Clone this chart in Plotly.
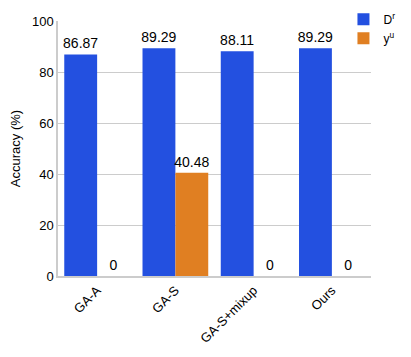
import plotly.graph_objects as go

categories = ["GA-A", "GA-S", "GA-S+mixup", "Ours"]
dr_values = [86.87, 89.29, 88.11, 89.29]
yu_values = [0, 40.48, 0, 0]
dr_text = ["86.87", "89.29", "88.11", "89.29"]
yu_text = ["0", "40.48", "0", "0"]
y_ticks = [0, 20, 40, 60, 80, 100]

fig = go.Figure()
fig.add_trace(go.Bar(x=categories, y=dr_values, name="D<sup>r</sup>",
                     marker=dict(color="#2350E0", line=dict(width=0)),
                     text=dr_text, textposition="outside", cliponaxis=False,
                     constraintext="none",
                     textfont=dict(size=14, color="black")))
fig.add_trace(go.Bar(x=categories, y=yu_values, name="y<sup>u</sup>",
                     marker=dict(color="#E07F22", line=dict(width=0)),
                     text=yu_text, textposition="outside", cliponaxis=False,
                     constraintext="none",
                     textfont=dict(size=14, color="black")))

fig.update_layout(
    width=411, height=357,
    margin=dict(l=50, r=48, t=13, b=89, autoexpand=False),
    paper_bgcolor="white", plot_bgcolor="white",
    font=dict(family="Liberation Sans, Arial, sans-serif", size=13, color="black"),
    barmode="group", bargap=0.16, bargroupgap=0,
    showlegend=True,
    legend=dict(x=0.912, y=1.064, xanchor="left", yanchor="top",
                bgcolor="rgba(0,0,0,0)", font=dict(size=12),
                itemwidth=30, tracegroupgap=5),
)
fig.update_yaxes(range=[0, 100], tickvals=y_ticks, showgrid=True, gridcolor="#CCCCCC",
                 showline=True, linecolor="#CCCCCC", linewidth=1.5, ticks="",
                 title=dict(text="Accuracy (%)", font=dict(size=13), standoff=9),
                 tickfont=dict(size=13), zeroline=False, automargin=False)
fig.update_xaxes(showline=True, linecolor="#CCCCCC", linewidth=1.5, tickangle=-45,
                 tickfont=dict(size=13), ticks="", automargin=False)

fig.write_html("out.html")
